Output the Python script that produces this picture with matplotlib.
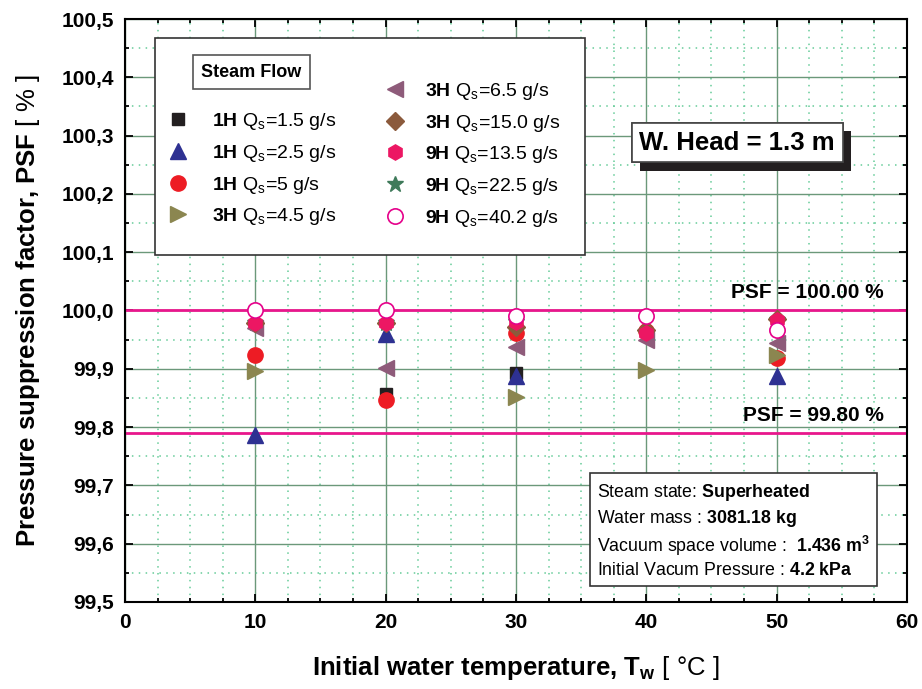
import numpy as np
import matplotlib
matplotlib.use('Agg')
import matplotlib.pyplot as plt
import matplotlib.patheffects as pe
from matplotlib.patches import Rectangle
from matplotlib.ticker import MultipleLocator, FuncFormatter

plt.rcParams['font.family'] = ['Liberation Sans', 'DejaVu Sans']
plt.rcParams['mathtext.fontset'] = 'custom'
plt.rcParams['mathtext.rm'] = 'Liberation Sans'
plt.rcParams['mathtext.it'] = 'Liberation Sans:italic'
plt.rcParams['mathtext.bf'] = 'Liberation Sans:bold'

# initial water temperature [C]
temps = [10, 20, 30, 40, 50]
nan = np.nan

# PSF [%] per case
psf_1h_15 = [nan, 99.857, 99.893, nan, nan]
psf_1h_25 = [99.786, 99.960, 99.888, nan, 99.888]
psf_1h_5 = [99.924, 99.846, 99.962, 99.965, 99.918]
psf_3h_45 = [99.897, nan, 99.852, 99.898, 99.923]
psf_3h_65 = [99.970, 99.902, 99.937, 99.949, 99.945]
psf_3h_15 = [99.978, 99.979, 99.971, 99.966, 99.986]
psf_9h_135 = [99.978, 99.979, 99.980, 99.962, 99.983]
psf_9h_225 = [99.978, 99.979, 99.980, 99.962, 99.983]
psf_9h_402 = [100.0, 100.0, 99.99, 99.99, 99.966]

psf_upper = 100.00
psf_lower = 99.79

series = [
    (psf_1h_15, 's', '#231f20', r'$\mathbf{1H}$ Q$_\mathrm{s}$=1.5 g/s'),
    (psf_1h_25, '^', '#2e3192', r'$\mathbf{1H}$ Q$_\mathrm{s}$=2.5 g/s'),
    (psf_1h_5, 'o', '#ed1c24', r'$\mathbf{1H}$ Q$_\mathrm{s}$=5 g/s'),
    (psf_3h_45, '>', '#8b8650', r'$\mathbf{3H}$ Q$_\mathrm{s}$=4.5 g/s'),
    (psf_3h_65, '<', '#8e5b7a', r'$\mathbf{3H}$ Q$_\mathrm{s}$=6.5 g/s'),
    (psf_3h_15, 'D', '#8b5a3c', r'$\mathbf{3H}$ Q$_\mathrm{s}$=15.0 g/s'),
    (psf_9h_135, 'h', '#ec1763', r'$\mathbf{9H}$ Q$_\mathrm{s}$=13.5 g/s'),
    (psf_9h_225, '*', '#3f7a5a', r'$\mathbf{9H}$ Q$_\mathrm{s}$=22.5 g/s'),
    (psf_9h_402, 'o', 'none', r'$\mathbf{9H}$ Q$_\mathrm{s}$=40.2 g/s'),
]

fig = plt.figure(figsize=(9.22, 6.89), dpi=100)
ax = fig.add_axes([0.1356, 0.1263, 0.848, 0.8461])

ax.axhline(psf_upper, color='#e8168c', lw=2, zorder=2)
ax.axhline(psf_lower, color='#e8168c', lw=2, zorder=2)

handles = []
for vals, mk, col, lab in series:
    size = {'s': 9, 'D': 9, '*': 12, 'h': 11}.get(mk, 11)
    z = 3.5 if mk == '*' else 4   # stars sit hidden under the hexagons
    if col == 'none':
        h, = ax.plot(temps, vals, ls='none', marker=mk, ms=size, mfc='white',
                     mec='#e5008a', mew=1.2, label=lab, zorder=4.5)
    else:
        h, = ax.plot(temps, vals, ls='none', marker=mk, ms=size, color=col,
                     mec=col, label=lab, zorder=z)
    handles.append(h)

ax.set_xlim(0, 60)
ax.set_ylim(99.5, 100.5)
ax.xaxis.set_major_locator(MultipleLocator(10))
ax.xaxis.set_minor_locator(MultipleLocator(2.5))
ax.yaxis.set_major_locator(MultipleLocator(0.1))
ax.yaxis.set_minor_locator(MultipleLocator(0.05))
ax.yaxis.set_major_formatter(FuncFormatter(lambda v, p: f'{v:.1f}'.replace('.', ',')))
ax.grid(which='major', color='#6b987a', lw=1.0, zorder=0)
ax.grid(which='minor', color='#66cc99', lw=1.1, ls=(0, (1, 3.5)), zorder=0)
ax.set_axisbelow(True)
ax.tick_params(which='both', direction='in', top=True, right=True, width=1.3)
ax.tick_params(which='major', length=6, labelsize=15, pad=8)
ax.tick_params(which='minor', length=3)
for lbl in ax.get_xticklabels() + ax.get_yticklabels():
    lbl.set_fontweight('bold')
for sp in ax.spines.values():
    sp.set_linewidth(1.5)

ax.set_xlabel(r'$\mathbf{Initial\ water\ temperature{,}\ T_w}$ [ °C ]', fontsize=18.5,
              labelpad=16)
ax.set_ylabel(r'$\mathbf{Pressure\ suppression\ factor{,}\ PSF}$ [ % ]', fontsize=18.5,
              labelpad=14)

# legend box
ax.add_patch(Rectangle((0.0384, 0.5952), 0.550, 0.372, transform=ax.transAxes,
                       facecolor='white', edgecolor='#333333', lw=1.2, zorder=5))
ax.text(0.1618, 0.909, 'Steam Flow', transform=ax.transAxes, ha='center', va='center',
        fontsize=13, fontweight='bold', zorder=7,
        bbox=dict(boxstyle='square,pad=0.45', fc='white', ec='#555555', lw=1.2))
leg_kw = dict(loc='upper left', frameon=False, fontsize=14, borderpad=0,
              borderaxespad=0, labelspacing=0.55, handlelength=1.6)
leg1 = ax.legend(handles[:4], [s[3] for s in series[:4]],
                 bbox_to_anchor=(0.048, 0.842), handletextpad=0.95, **leg_kw)
leg1.set_zorder(6)
ax.add_artist(leg1)
leg2 = ax.legend(handles[4:], [s[3] for s in series[4:]],
                 bbox_to_anchor=(0.325, 0.894), handletextpad=0.75, **leg_kw)
leg2.set_zorder(6)

# water head box
t = ax.text(0.783, 0.788, 'W. Head = 1.3 m', transform=ax.transAxes, ha='center',
            va='center', fontsize=18.5, fontweight='bold', zorder=7,
            bbox=dict(boxstyle='square,pad=0.3', fc='white', ec='#444444', lw=1.2))
t.get_bbox_patch().set_path_effects([
    pe.withSimplePatchShadow(offset=(6, -6), shadow_rgbFace='#231f20', alpha=1.0),
    pe.Normal()])

ax.text(0.9706, psf_upper + 0.014, 'PSF = 100.00 %', transform=ax.get_yaxis_transform(),
        ha='right', va='bottom', fontsize=15, fontweight='bold', zorder=7)
ax.text(0.9706, psf_lower + 0.014, 'PSF = 99.80 %', transform=ax.get_yaxis_transform(),
        ha='right', va='bottom', fontsize=15, fontweight='bold', zorder=7)

# conditions box
info = ('Steam state: $\\mathbf{Superheated}$\n'
        'Water mass : $\\mathbf{3081.18\\ kg}$\n'
        'Vacuum space volume :  $\\mathbf{1.436\\ m^3}$\n'
        'Initial Vacum Pressure : $\\mathbf{4.2\\ kPa}$')
ax.text(0.6036, 0.122, info, transform=ax.transAxes, ha='left', va='center',
        fontsize=12.8, linespacing=1.3, zorder=7,
        bbox=dict(boxstyle='square,pad=0.4', fc='white', ec='#333333', lw=1.2))

fig.savefig('out.png', dpi=100)
